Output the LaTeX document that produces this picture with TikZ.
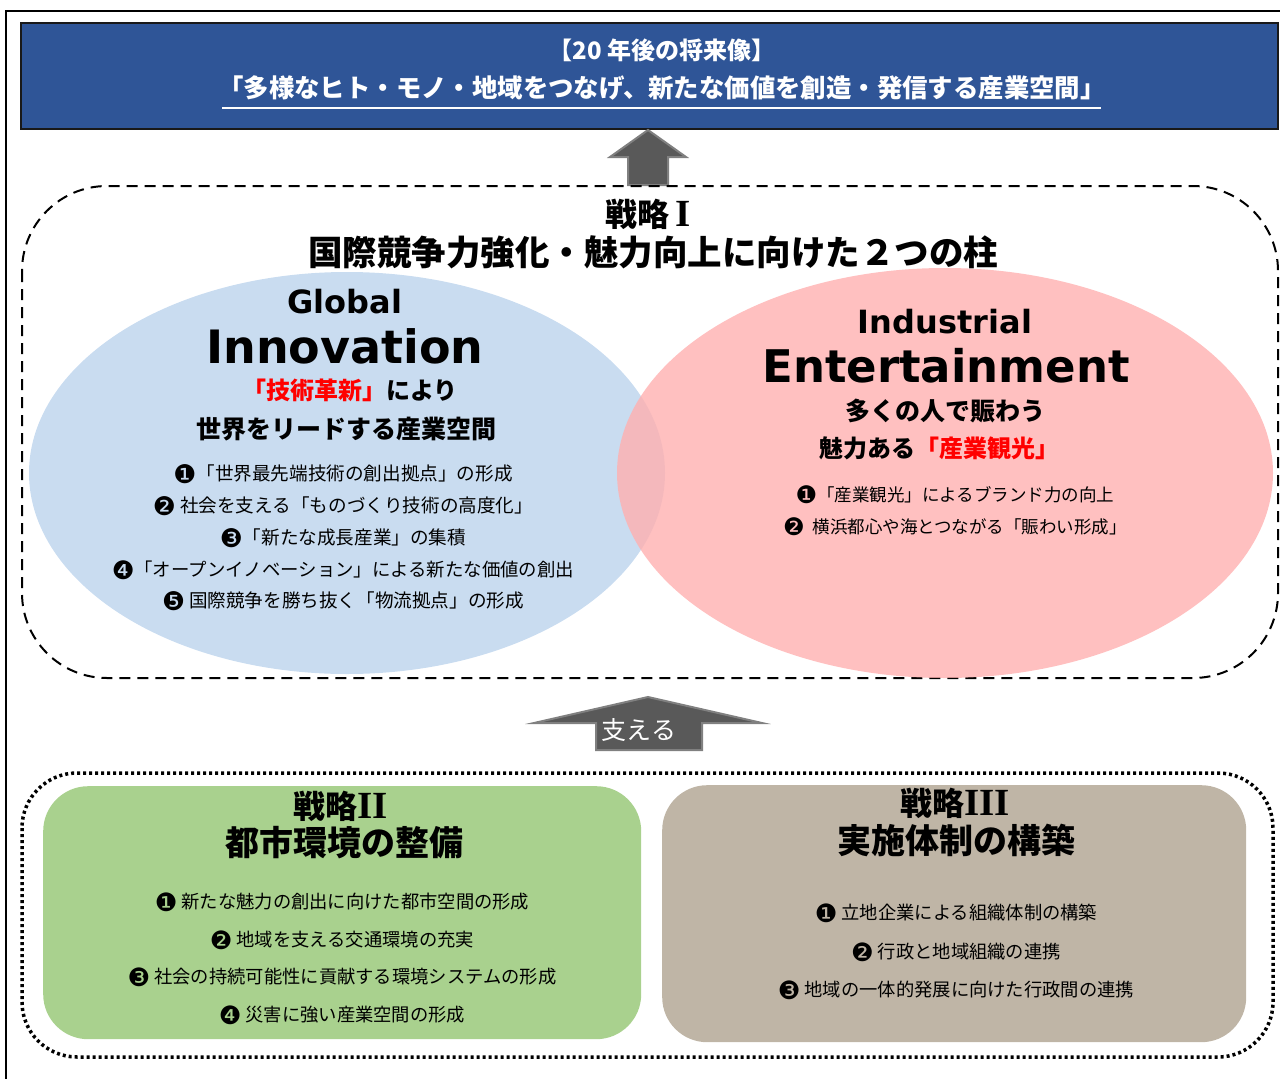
\documentclass[tikz,border=0pt]{standalone}
\usepackage{graphicx}
\usepackage{fontspec}
\setmainfont{Noto Sans CJK JP}
\newfontfamily\dvfont{DejaVu Sans}
\newfontfamily\romfont{Liberation Serif}
\newcommand\cnum[1]{\raisebox{-0.13em}{\dvfont\scalebox{1.38}{#1}}}
\newcommand\rnum[1]{{\romfont\bfseries\scalebox{1.22}[1.2]{#1}}}
\definecolor{topblue}{HTML}{2F5597}
\definecolor{lblue}{HTML}{C9DCF0}
\definecolor{lpink}{HTML}{FFB0B0}
\definecolor{lgreen}{HTML}{A9D18E}
\definecolor{ltan}{HTML}{BFB5A6}
\definecolor{agray}{HTML}{595959}
\definecolor{agrayb}{HTML}{808080}
\definecolor{jred}{HTML}{FF0000}
\tikzset{
  txt/.style={inner sep=0pt, anchor=center, font=\fontsize{#1}{#1}\selectfont},
  btxt/.style={inner sep=0pt, anchor=center, font=\fontsize{#1}{#1}\selectfont\bfseries},
  ltxt/.style={inner sep=0pt, anchor=center, font=\dvfont\fontsize{#1}{#1}\selectfont\bfseries},
  bigarrow/.style={fill=agray, draw=agrayb, line width=2pt, line join=miter},
}
\begin{document}
\begin{tikzpicture}[x=1pt,y=-1pt]
\useasboundingbox (0,0) rectangle (1280,1079);
% outer frame
\draw[line width=2pt] (6,1079) -- (6,11) -- (1290,11);
% top blue box
\node[draw=black!90, line width=2pt, fill=topblue, minimum width=1257pt, minimum height=106pt, inner sep=0pt, anchor=north west] (vision) at (20,22) {};
\node[btxt=24, text=white] (v1) at (662,50) {【20 年後の将来像】};
\node[btxt=25.4, text=white] (v2) at (662,88) {「多様なヒト・モノ・地域をつなげ、新たな価値を創造・発信する産業空間」};
\draw[white, line width=2pt] (222,108) -- (1101,108);
% upper arrow
\path[bigarrow] (648,130) -- (686,157) -- (668,157) -- (668,185) -- (628,185) -- (628,157) -- (610,157) -- cycle;
% dashed strategy I frame
\draw[line width=2pt, dash pattern=on 11pt off 7pt, rounded corners=85pt] (22,186) rectangle (1278,678);
% ellipses
\fill[lblue] (347,473) ellipse [x radius=318, y radius=201];
\fill[lpink, opacity=0.8] (945,473) ellipse [x radius=328, y radius=205];
% strategy I title
\node[btxt=32] (s1a) at (648,214) {戦略\,\rnum{I}};
\node[btxt=34.5] (s1b) at (653,252) {国際競争力強化・魅力向上に向けた２つの柱};
% left ellipse text
\node[ltxt=32] (gl) at (345,302) {Global};
\node[ltxt=46] (inn) at (345,346) {Innovation};
\node[btxt=24] (l1) at (350,390) {\textcolor{jred}{「技術革新」}により};
\node[btxt=25] (l2) at (346,429) {世界をリードする産業空間};
\node[txt=18.6] (li1) at (343,474) {\cnum{❶}「世界最先端技術の創出拠点」の形成};
\node[txt=18.6] (li2) at (343,506) {\cnum{❷} 社会を支える「ものづくり技術の高度化」};
\node[txt=18.6] (li3) at (343,538) {\cnum{❸}「新たな成長産業」の集積};
\node[txt=18.4] (li4) at (343,570) {\cnum{❹}「オープンイノベーション」による新たな価値の創出};
\node[txt=18.6] (li5) at (343,601) {\cnum{❺} 国際競争を勝ち抜く「物流拠点」の形成};
% right ellipse text
\node[ltxt=32] (ind) at (945,322) {Industrial};
\node[ltxt=45] (ent) at (946,366) {Entertainment};
\node[btxt=25] (r1) at (945,411) {多くの人で賑わう};
\node[btxt=24] (r2) at (939,448) {魅力ある\textcolor{jred}{「産業観光」}};
\node[txt=17.5] (ri1) at (955,495) {\cnum{❶}「産業観光」によるブランド力の向上};
\node[txt=17.5] (ri2) at (955,527) {\cnum{❷}\ \ 横浜都心や海とつながる「賑わい形成」};
% support arrow
\path[bigarrow] (648,697) -- (762,723) -- (702,723) -- (702,750) -- (596,750) -- (596,723) -- (534,723) -- cycle;
\node[txt=25, text=white] (sup) at (639,730) {支える};
% dotted frame
\draw[line width=3.5pt, dash pattern=on 3pt off 3pt, rounded corners=55pt] (22,773) rectangle (1273,1057);
% strategy II box
\node[fill=lgreen, rounded corners=45pt, minimum width=598pt, minimum height=253pt, inner sep=0pt, anchor=north west] (s2box) at (43,786) {};
\node[btxt=32] (s2a) at (341,806) {戦略\rnum{II}};
\node[btxt=34] (s2b) at (344,843) {都市環境の整備};
\node[txt=18.3] (g1) at (342,902) {\cnum{❶} 新たな魅力の創出に向けた都市空間の形成};
\node[txt=18.3] (g2) at (342,940) {\cnum{❷} 地域を支える交通環境の充実};
\node[txt=18.3] (g3) at (342,977) {\cnum{❸} 社会の持続可能性に貢献する環境システムの形成};
\node[txt=18.3] (g4) at (342,1015) {\cnum{❹} 災害に強い産業空間の形成};
% strategy III box
\node[fill=ltan, rounded corners=45pt, minimum width=584pt, minimum height=257pt, inner sep=0pt, anchor=north west] (s3box) at (662,785) {};
\node[btxt=32] (s3a) at (955,803) {戦略\rnum{III}};
\node[btxt=34] (s3b) at (956,840) {実施体制の構築};
\node[txt=18.3] (t1) at (956,913) {\cnum{❶} 立地企業による組織体制の構築};
\node[txt=18.3] (t2) at (956,952) {\cnum{❷} 行政と地域組織の連携};
\node[txt=18.3] (t3) at (956,990) {\cnum{❸} 地域の一体的発展に向けた行政間の連携};
\end{tikzpicture}
\end{document}
